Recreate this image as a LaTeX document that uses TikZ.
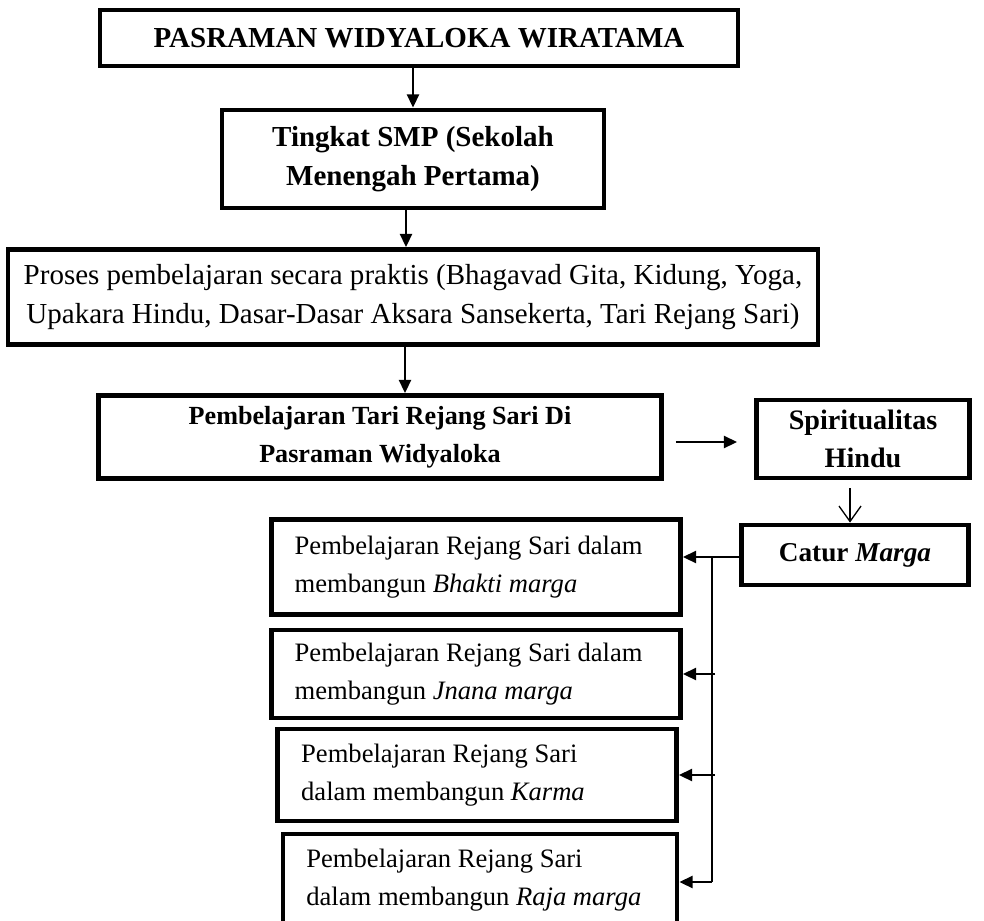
\documentclass[tikz,border=0pt]{standalone}
\usepackage{fontspec}
\setmainfont{Liberation Serif}
\usetikzlibrary{arrows.meta}

\def\px{0.455pt}
\def\busx{712}

\begin{document}
\begin{tikzpicture}[x=\px,y=-\px,
    kotak/.style={draw, line width=2.2pt, inner sep=2pt, align=center,
        font=\fontsize{13.2}{18}\selectfont},
    kotakkecil/.style={kotak, font=\fontsize{11.9}{17.5}\selectfont},
    kotakkiri/.style={kotak, align=flush left, inner xsep=10.5pt,
        font=\fontsize{12.1}{17}\selectfont},
    panah/.style={-{Triangle[length=6pt,width=5.5pt]}, line width=0.9pt},
    panahbuka/.style={-{Straight Barb[length=7pt,width=10pt]}, line width=0.6pt}]

\useasboundingbox (0,0) rectangle (984,920);

%alur utama
    \node[kotak, minimum width=638*\px, minimum height=56*\px] (pasraman) at (419,38)
        {\textbf{PASRAMAN WIDYALOKA WIRATAMA}};
    \node[kotak, minimum width=382*\px, minimum height=98*\px] (smp) at (413,159)
        {\textbf{Tingkat SMP (Sekolah}\\\textbf{Menengah Pertama)}};
    \node[kotak, minimum width=810*\px, minimum height=95*\px] (proses) at (413,297)
        {Proses pembelajaran secara praktis (Bhagavad Gita, Kidung, Yoga,\\
         Upakara Hindu, Dasar-Dasar Aksara Sansekerta, Tari Rejang Sari)};
    \node[kotakkecil, minimum width=563*\px, minimum height=83*\px] (tari) at (380,437)
        {\textbf{Pembelajaran Tari Rejang Sari Di}\\\textbf{Pasraman Widyaloka}};
    \node[kotak, font=\fontsize{12.8}{17}\selectfont, minimum width=213*\px, minimum height=78*\px] (spirit) at (863,439)
        {\textbf{Spiritualitas}\\\textbf{Hindu}};
    \node[kotak, font=\fontsize{12.4}{17}\selectfont, minimum width=227*\px, minimum height=60*\px] (catur) at (855,555)
        {\textbf{Catur \textit{Marga}}};

%empat marga
    \node[kotakkiri, text width=165pt, minimum width=409*\px, minimum height=95*\px] (bhakti) at (476,567)
        {\mbox{Pembelajaran Rejang Sari dalam}\\\mbox{membangun \textit{Bhakti marga}}};
    \node[kotakkiri, text width=165pt, minimum width=409*\px, minimum height=88*\px] (jnana) at (476,674)
        {\mbox{Pembelajaran Rejang Sari dalam}\\\mbox{membangun \textit{Jnana marga}}};
    \node[kotakkiri, text width=160pt, minimum width=399*\px, minimum height=92*\px] (karma) at (477,775)
        {\mbox{Pembelajaran Rejang Sari}\\\mbox{dalam membangun \textit{Karma}}};
    \node[kotakkiri, text width=158pt, minimum width=394*\px, minimum height=92*\px] (raja) at (480,880)
        {\mbox{Pembelajaran Rejang Sari}\\\mbox{dalam membangun \textit{Raja marga}}};

%panah
    \draw[panah] (smp.north |- pasraman.south) -- (smp.north);
    \draw[panah] ([xshift=-7*\px]smp.south) -- ([xshift=-7*\px]smp.south |- proses.north);
    \draw[panah] ([xshift=-8*\px]proses.south) -- ([xshift=-8*\px]proses.south |- tari.north);
    \draw[panah, shorten <=12*\px, shorten >=17*\px] ([yshift=-5*\px]tari.east) -- ([yshift=-5*\px]tari.east -| spirit.west);
    \draw[panahbuka, shorten <=8*\px] ([xshift=-5*\px]catur.north |- spirit.south) -- ([xshift=-5*\px]catur.north);

    \coordinate (bus) at (\busx,557);
    \draw[panah] (catur.west |- bus) -- (bus -| bhakti.east);
    \draw[line width=0.9pt] (bus) -- ([yshift=-2*\px]bus |- raja.east);
    \draw[panah] ([yshift=-2*\px]bus |- raja.east) -- ([yshift=-2*\px]raja.east);
    \foreach \m in {jnana,karma}
        \draw[panah] ([xshift=3*\px]bus |- \m.east) -- (\m.east);

\end{tikzpicture}
\end{document}
